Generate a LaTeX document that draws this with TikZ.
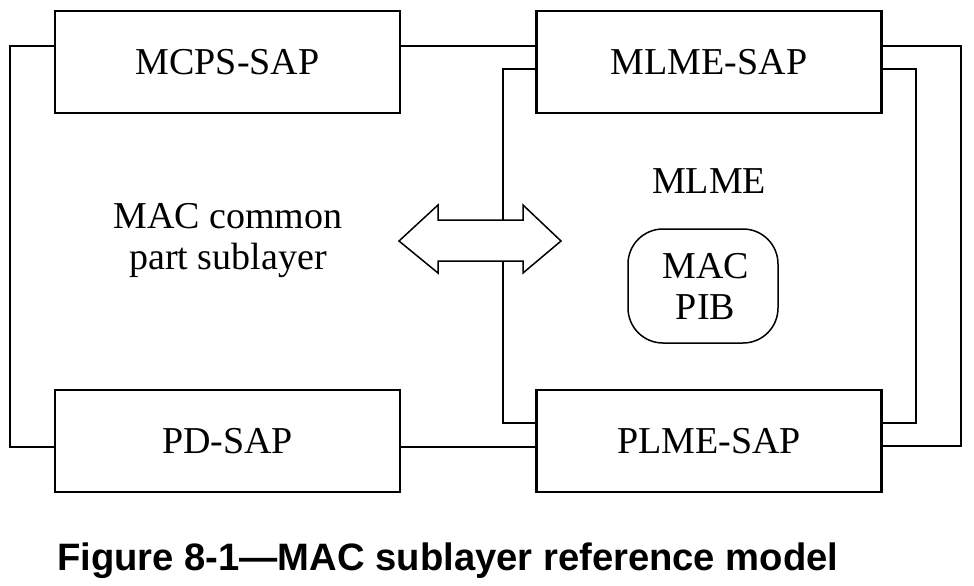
\documentclass[tikz,border=0pt]{standalone}
\usepackage{fontspec}
\setmainfont{Liberation Serif}
\newfontfamily\capfont{Liberation Sans}
\begin{document}
\begin{tikzpicture}[x=1pt,y=-1pt,
    sapbox/.style={draw,line width=2.2pt,minimum width=345pt,minimum height=102pt,font=\fontsize{38}{40}\selectfont},
    link/.style={line width=2.2pt},
    label/.style={font=\fontsize{38}{41}\selectfont,align=center,inner sep=0pt}]
    \useasboundingbox (0,0) rectangle (974,586);

    % Define the boxes
    \node[sapbox] (mcps) at (227.5,62) {MCPS-SAP};
    \node[sapbox] (mlme) at (709,62) {MLME-SAP};
    \node[sapbox] (pd) at (227.5,441) {PD-SAP};
    \node[sapbox] (plme) at (709,441) {PLME-SAP};

    % Define the corner points
    \coordinate (TL) at (10,46);
    \coordinate (BL) at (10,447);
    \coordinate (TR) at (961,46);
    \coordinate (BR) at (961,446);
    \coordinate (ITL) at (503,69);
    \coordinate (IBL) at (503,423);
    \coordinate (ITR) at (916,69);
    \coordinate (IBR) at (916,423);

    % Draw the links
    \draw[link] (mcps.west |- TL) -- (TL) -- (BL) -- (pd.west |- BL);
    \draw[link] (mcps.east |- TL) -- (mlme.west |- TL);
    \draw[link] (pd.east |- BL) -- (plme.west |- BL);
    \draw[link] (mlme.east |- TR) -- (TR) -- (BR) -- (plme.east |- BR);
    \draw[link] (mlme.east |- ITR) -- (ITR) -- (IBR) -- (plme.east |- IBR);
    \draw[link] (mlme.west |- ITL) -- (ITL) -- (IBL) -- (plme.west |- IBL);

    % Draw the double arrow
    \draw[line width=1.5pt,fill=white] (399,241) -- (438,205) -- (438,220) -- (523,220)
        -- (523,205) -- (561,241) -- (523,273) -- (523,261) -- (438,261) -- (438,273) -- cycle;

    % Label the parts
    \node[label] (common) at (228,241) {MAC common\\part sublayer};
    \node[label,anchor=base] (mlmelabel) at (709,193) {MLME};
    \node[draw,line width=1.5pt,rounded corners=35pt,minimum width=150pt,minimum height=114pt,
        label] (pib) at (703,286) {\hspace{5pt}MAC\\\hspace{5pt}PIB};

    % Caption
    \node[anchor=base west,inner sep=0pt,font=\capfont\bfseries\fontsize{38.2}{40}\selectfont] (caption)
        at (57,570) {Figure 8-1—MAC sublayer reference model};

    \end{tikzpicture}
\end{document}
